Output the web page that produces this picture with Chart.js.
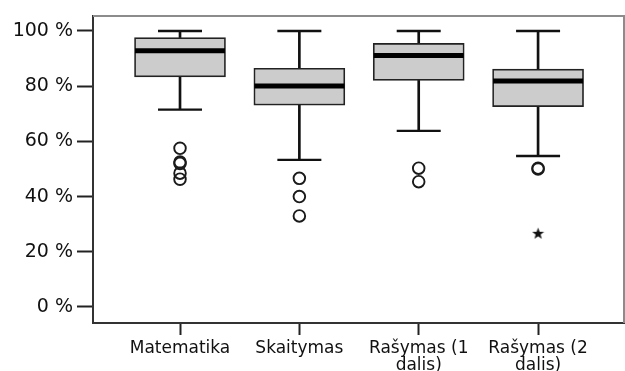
<!DOCTYPE html>
<html>
<head>
<meta charset="utf-8">
<script src="https://cdn.jsdelivr.net/npm/chart.js@4/dist/chart.umd.min.js"></script>
<style>
html,body{margin:0;padding:0;background:#fff;}
#wrap{width:625px;height:371px;}
</style>
</head>
<body>
<div id="wrap"><canvas id="c" width="625" height="371"></canvas></div>
<script>
// ---- data ----
const categories = ['Matematika', 'Skaitymas', 'Rašymas (1 dalis)', 'Rašymas (2 dalis)'];
const tickLabels = [['Matematika'], ['Skaitymas'], ['Rašymas (1', 'dalis)'], ['Rašymas (2', 'dalis)']];
const whiskerMin = [71.5, 53.3, 63.8, 54.7];
const q1 = [83.4, 73.1, 82.1, 72.6];
const median = [92.8, 80.1, 91.1, 81.9];
const q3 = [97.6, 86.5, 95.5, 86.2];
const whiskerMax = [100, 100, 100, 100];
const outliers = [[57.5, 52.5, 52.0, 48.5, 46.3], [46.6, 40.0, 33.0], [50.3, 45.4], [50.3, 50.0]];
const extremes = [[], [], [], [26.7]];
const yTicks = [0, 20, 40, 60, 80, 100];

// ---- helpers ----
const pos = categories.map((_, i) => i + 1);
const pts = (arr) => arr.map((v, i) => ({ x: pos[i], y: v }));
const range = (lo, hi) => lo.map((v, i) => ({ x: pos[i], y: [v, hi[i]] }));
const flat = (lists) => lists.flatMap((l, i) => l.map(v => ({ x: pos[i], y: v })));

// filled star point style
const star = document.createElement('canvas');
star.width = 13; star.height = 13;
(function () {
  const g = star.getContext('2d');
  const cx = 6.5, cy = 7, R = 6.3, r = 2.6;
  g.beginPath();
  for (let k = 0; k < 10; k++) {
    const a = -Math.PI / 2 + k * Math.PI / 5;
    const rr = k % 2 === 0 ? R : r;
    g.lineTo(cx + rr * Math.cos(a), cy + rr * Math.sin(a));
  }
  g.closePath();
  g.fillStyle = '#111';
  g.fill();
})();

const framePlugin = {
  id: 'frame',
  afterDraw(chart) {
    const a = chart.chartArea, ctx = chart.ctx;
    ctx.save();
    ctx.strokeStyle = '#8c8c8c';
    ctx.lineWidth = 2;
    ctx.beginPath();
    ctx.moveTo(a.left, a.top);
    ctx.lineTo(a.right, a.top);
    ctx.lineTo(a.right, a.bottom);
    ctx.stroke();
    ctx.restore();
  }
};

const ink = '#111';

new Chart(document.getElementById('c'), {
  type: 'bar',
  data: {
    datasets: [
      { type: 'bar', data: range(q3, whiskerMax), backgroundColor: ink, borderWidth: 0, barThickness: 2, grouped: false, order: 6 },
      { type: 'bar', data: range(whiskerMin, q1), backgroundColor: ink, borderWidth: 0, barThickness: 2, grouped: false, order: 6 },
      { type: 'bar', data: range(q1, q3), backgroundColor: '#cccccc', borderColor: '#222', borderWidth: 1.7, borderSkipped: false, barThickness: 91, grouped: false, order: 5 },
      { type: 'scatter', data: pts(median), pointStyle: 'line', pointRadius: 45, borderColor: '#000', backgroundColor: '#000', pointBorderWidth: 5, order: 3 },
      { type: 'scatter', data: pts(whiskerMax), pointStyle: 'line', pointRadius: 22, borderColor: ink, backgroundColor: ink, pointBorderWidth: 2.3, order: 3 },
      { type: 'scatter', data: pts(whiskerMin), pointStyle: 'line', pointRadius: 22, borderColor: ink, backgroundColor: ink, pointBorderWidth: 2.3, order: 3 },
      { type: 'scatter', data: flat(outliers), pointStyle: 'circle', pointRadius: 5.8, borderColor: '#1a1a1a', backgroundColor: 'rgba(0,0,0,0)', pointBorderWidth: 1.9, order: 2 },
      { type: 'scatter', data: flat(extremes), pointStyle: star, order: 2 }
    ]
  },
  options: {
    responsive: false,
    animation: false,
    events: [],
    layout: { autoPadding: false, padding: { top: 0, right: 1, left: 0, bottom: 0 } },
    plugins: { legend: { display: false }, tooltip: { enabled: false } },
    scales: {
      x: {
        type: 'linear',
        offset: false,
        min: 0.271,
        max: 4.72,
        afterBuildTicks(s) { s.ticks = pos.map(v => ({ value: v })); },
        afterFit(s) { s.height = 48; s.paddingLeft = 0; s.paddingRight = 0; },
        grid: { offset: false, drawOnChartArea: false, tickLength: 12, tickWidth: 2, tickColor: '#222' },
        border: { display: true, color: '#333', width: 2 },
        ticks: {
          autoSkip: false, maxRotation: 0, minRotation: 0, padding: 5,
          color: '#111',
          font: { family: 'DejaVu Sans', size: 17, lineHeight: 1.0 },
          callback(v) { const i = Math.round(v) - 1; return tickLabels[i] || ''; }
        }
      },
      y: {
        type: 'linear',
        min: -5.8,
        max: 105.43,
        afterBuildTicks(s) { s.ticks = yTicks.map(v => ({ value: v })); },
        afterFit(s) { s.width = 93; s.paddingTop = 16; s.paddingBottom = 0; },
        grid: { drawOnChartArea: false, tickLength: 16, tickWidth: 2, tickColor: '#222' },
        border: { display: true, color: '#333', width: 2 },
        ticks: {
          padding: 4,
          color: '#111',
          font: { family: 'DejaVu Sans', size: 19 },
          callback(v) { return v + ' %'; }
        }
      }
    }
  },
  plugins: [framePlugin]
});
</script>
</body>
</html>
